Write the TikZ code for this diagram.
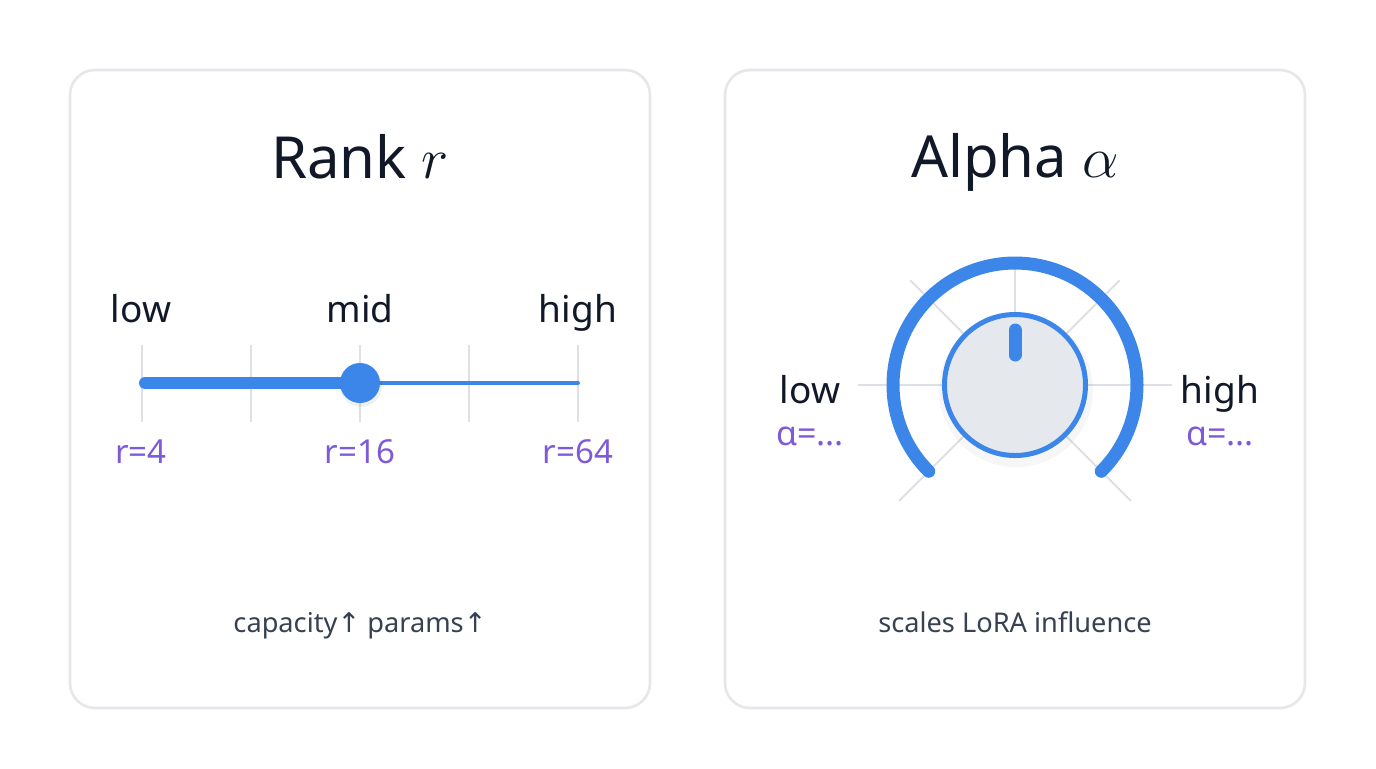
\RequirePackage{fix-cm}
\documentclass[tikz,border=0pt]{standalone}
\usepackage{fontspec}
\setmainfont{Noto Sans}
\newfontfamily\symfont{DejaVu Sans}
\usetikzlibrary{calc}
\definecolor{bg}{HTML}{FFFFFF}
\definecolor{cardborder}{HTML}{E5E7EB}
\definecolor{accent}{HTML}{3B86E8}
\definecolor{purp}{HTML}{7F5AD8}
\definecolor{ink}{HTML}{111827}
\definecolor{sub}{HTML}{374151}
\definecolor{tickc}{HTML}{DDE1E6}
\definecolor{knobfill}{HTML}{E5E9EE}
\tikzset{
  card/.style={draw=cardborder, line width=1.3pt, fill=white, rounded corners=12.5pt,
    minimum width=290pt, minimum height=319pt, inner sep=0pt},
  titletext/.style={anchor=base, text=ink, font=\fontsize{29}{34}\selectfont},
  lvl/.style={anchor=base, text=ink, font=\fontsize{18.5}{22}\selectfont},
  val/.style={anchor=base, text=purp, font=\fontsize{16.5}{20}\selectfont},
  aval/.style={anchor=base, text=purp, font=\fontsize{17}{20}\selectfont},
  note/.style={anchor=base, text=sub, font=\fontsize{13.6}{17}\selectfont},
  gridline/.style={draw=tickc, line width=1pt},
  track/.style={draw=accent, line cap=round},
}
\begin{document}
\begin{tikzpicture}[x=0.5pt,y=-0.5pt]
\fill[bg] (0,0) rectangle (1376,768);
\useasboundingbox (0,0) rectangle (1376,768);

% cards
\node[card] (lcard) at (360,389) {};
\node[card] (rcard) at (1015,389) {};

% titles
\node[titletext] (ltitle) at (360,178) {Rank $r$};
\node[titletext] (rtitle) at (1015,177) {Alpha $\alpha$};

% ---- slider ----
\foreach \i/\x in {0/142,1/251,2/360,3/469,4/578} {
  \coordinate (tt\i) at (\x,345);
  \coordinate (tb\i) at (\x,422);
  \draw[gridline] (tt\i) -- (tb\i);
}
\coordinate (sl) at (145,383);
\coordinate (sr) at (578,383);
\coordinate (sm) at (360,383);
\draw[track, line width=2pt] (sm) -- (sr);
\draw[track, line width=6pt] (sl) -- (sm);
\fill[black, opacity=0.06] (361,386) circle[radius=21];
\node[circle, fill=accent, minimum size=20pt, inner sep=0pt] (sknob) at (sm) {};

\node[lvl] (llow) at (141,322) {low};
\node[lvl] (lmid) at (360,322) {mid};
\node[lvl] (lhigh) at (578,322) {high};
\node[val] (r4) at (141,463) {r=4};
\node[val] (r16) at (360,463) {r=16};
\node[val] (r64) at (578,463) {r=64};

\node[note] (lnote) at (360,632) {capacity{\symfont ↑} params{\symfont ↑}};

% ---- dial ----
\coordinate (dc) at (1015,385);
\foreach \a/\r in {0/157,45/164,135/164,180/157,225/148,315/148} {
  \draw[gridline] ($(dc)+(\a:73)$) -- ($(dc)+(\a:\r)$);
}
\draw[gridline] ($(dc)+(270:73)$) -- ($(dc)+(270:118)$);
\draw[track, line width=6.5pt] ($(dc)+(135:122)$) arc[start angle=135, end angle=405, radius=122];
\fill[black, opacity=0.035] (1016,390) circle[radius=77];
\node[circle, fill=knobfill, draw=accent, line width=2.5pt, minimum size=70.5pt, inner sep=0pt] (knob) at (dc) {};
\coordinate (ind1) at (1015,330);
\coordinate (ind2) at (1015,355);
\draw[track, line width=6.5pt] (ind1) -- (ind2);

\node[lvl] (rlow) at (810,403) {low};
\node[lvl] (rhigh) at (1220,403) {high};
\node[aval] (alow) at (810,445) {α=...};
\node[aval] (ahigh) at (1220,445) {α=...};

\node[note] (rnote) at (1015,632) {scales LoRA influence};
\end{tikzpicture}
\end{document}
